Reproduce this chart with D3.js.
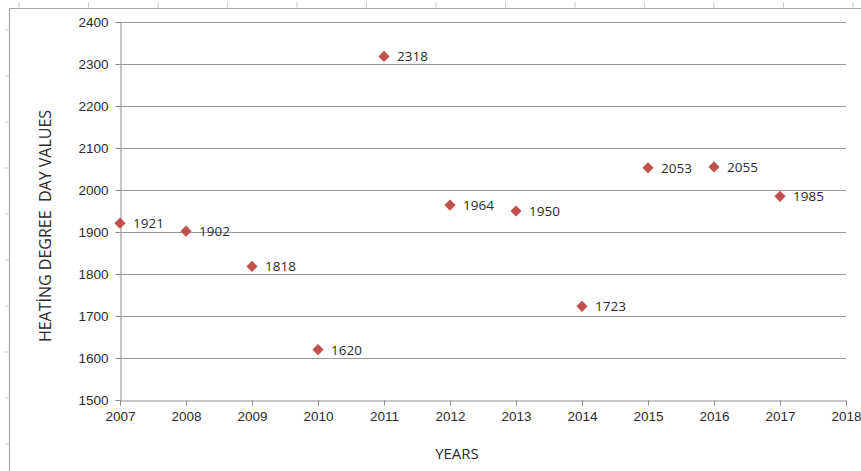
<!DOCTYPE html>
<html>
<head>
<meta charset="utf-8">
<script src="https://cdn.jsdelivr.net/npm/d3@7"></script>
<style>
  html, body { margin: 0; padding: 0; background: #fff; }
  svg { display: block; font-family: "Open Sans", "Liberation Sans", sans-serif; }
</style>
</head>
<body>
<svg id="chart" width="861" height="471"></svg>
<script>
// Heating degree day values per year
const years = [2007, 2008, 2009, 2010, 2011, 2012, 2013, 2014, 2015, 2016, 2017];
const hddValues = [1921, 1902, 1818, 1620, 2318, 1964, 1950, 1723, 2053, 2055, 1985];
const xTicks = [2007, 2008, 2009, 2010, 2011, 2012, 2013, 2014, 2015, 2016, 2017, 2018];
const yTicks = [1500, 1600, 1700, 1800, 1900, 2000, 2100, 2200, 2300, 2400];

const svg = d3.select("#chart");
const W = 861, H = 471;
const plot = { left: 120, right: 846, top: 22, bottom: 400 };

const x = d3.scaleLinear().domain([2007, 2018]).range([plot.left, plot.right]);
const y = d3.scaleLinear().domain([1500, 2400]).range([plot.bottom, plot.top]);

// Outer chart frame with small ruler marks along its edges
const frame = svg.append("g");
frame.append("line").attr("x1", 9.5).attr("x2", W).attr("y1", 8.5).attr("y2", 8.5)
  .attr("stroke", "#a6a6a6").attr("stroke-width", 1.2);
frame.append("line").attr("x1", 9.5).attr("x2", 9.5).attr("y1", 8.5).attr("y2", H)
  .attr("stroke", "#a6a6a6").attr("stroke-width", 1.2);
const rulerTop = d3.range(19, W, 69.5);
frame.selectAll(".rt").data(rulerTop).join("line")
  .attr("x1", d => d).attr("x2", d => d).attr("y1", 2).attr("y2", 8)
  .attr("stroke", "#c8c8c8");
const rulerLeft = d3.range(30, H, 46);
frame.selectAll(".rl").data(rulerLeft).join("line")
  .attr("x1", 5).attr("x2", 9.5).attr("y1", d => d).attr("y2", d => d)
  .attr("stroke", "#c8c8c8");

// Horizontal gridlines
svg.append("g").selectAll("line").data(yTicks.filter(v => v > 1500)).join("line")
  .attr("x1", plot.left).attr("x2", plot.right)
  .attr("y1", d => Math.round(y(d)) + 0.5).attr("y2", d => Math.round(y(d)) + 0.5)
  .attr("stroke", "#999").attr("stroke-width", 1);

// Y axis
const yAxis = svg.append("g")
  .attr("transform", `translate(${plot.left + 0.5},0)`)
  .call(d3.axisLeft(y).tickValues(yTicks).tickSize(5).tickPadding(7).tickFormat(d3.format("d")));
yAxis.select(".domain").attr("stroke", "#8c8c8c");
yAxis.selectAll(".tick line").attr("stroke", "#8c8c8c");
yAxis.selectAll("text").attr("font-size", 13.5).attr("fill", "#2b2b2b");

// X axis
const xAxis = svg.append("g")
  .attr("transform", `translate(0,${plot.bottom + 0.5})`)
  .call(d3.axisBottom(x).tickValues(xTicks).tickSize(5).tickPadding(6).tickFormat(d3.format("d")));
xAxis.select(".domain").attr("stroke", "#8c8c8c");
xAxis.selectAll(".tick line").attr("stroke", "#8c8c8c");
xAxis.selectAll("text").attr("font-size", 13.5).attr("fill", "#2b2b2b");

// Data points (diamonds) with value labels
const data = years.map((yr, i) => ({ year: yr, value: hddValues[i] }));
const diamond = d3.symbol().type(d3.symbolDiamond2).size(80);

const pts = svg.append("g");
pts.selectAll("path").data(data).join("path")
  .attr("d", diamond)
  .attr("transform", d => `translate(${x(d.year)},${y(d.value)})`)
  .attr("fill", "#c0504d");

pts.selectAll("text").data(data).join("text")
  .attr("x", d => x(d.year) + 13)
  .attr("y", d => y(d.value) + 5)
  .attr("font-size", 13.5)
  .attr("fill", "#2b2b2b")
  .text(d => d.value);

// Axis titles
svg.append("text")
  .attr("x", 457).attr("y", 459)
  .attr("text-anchor", "middle")
  .attr("font-size", 15)
  .attr("fill", "#2b2b2b")
  .text("YEARS");

svg.append("text")
  .attr("transform", "translate(51,226) rotate(-90)")
  .attr("text-anchor", "middle")
  .attr("font-size", 16)
  .attr("fill", "#2b2b2b")
  .style("white-space", "pre")
  .text("HEATİNG DEGREE  DAY VALUES");
</script>
</body>
</html>
